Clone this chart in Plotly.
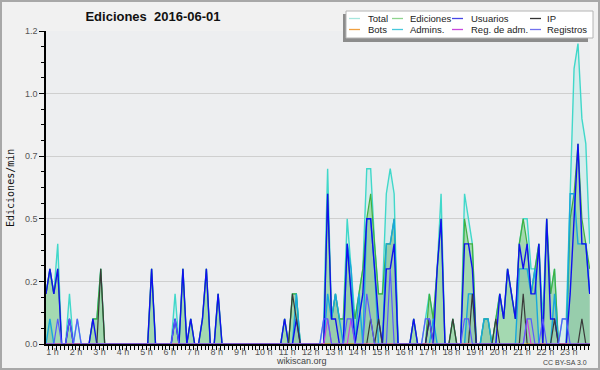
import plotly.graph_objects as go

# ---------------- data (10-minute bins, edits per minute) ----------------
T0 = 0.7227          # hour of the first bin
N_BINS = 140
hour_ticks = list(range(1, 24))
hour_labels = [f"{h} h" for h in hour_ticks]
y_ticks = [0, 0.25, 0.5, 0.75, 1.0, 1.25]
y_labels = ["0.0", "0.2", "0.5", "0.7", "1.0", "1.2"]

total = [
    .2, .3, .2, .4, 0, 0, .2, 0, .1, 0,
    0, 0, .1, .1, .3, 0, 0, 0, 0, 0,
    0, 0, 0, 0, 0, 0, 0, .3, 0, 0,
    0, 0, 0, .2, 0, .3, 0, .1, 0, 0,
    .1, .3, 0, 0, .2, 0, 0, 0, 0, 0,
    0, 0, 0, 0, 0, 0, 0, 0, 0, 0,
    0, .1, 0, .2, .2, 0, 0, 0, 0, 0,
    0, .1, .7, .1, .2, .1, .1, .5, .3, .1,
    .2, .3, .7, .7, .4, .2, .2, .6, .7, .6,
    0, 0, 0, 0, .1, 0, 0, .1, .2, .1,
    .3, .6, 0, 0, .1, 0, 0, .6, .5, .4,
    0, 0, .1, .1, 0, .1, .2, .1, .3, .2,
    .1, .4, .5, .5, .3, .3, .4, .1, .5, .2,
    .3, 0, .1, .1, .6, 1.1, 1.2, .9, .8, .4,
]
ediciones = [
    .2, .3, .2, .3, 0, 0, .1, 0, 0, 0,
    0, 0, .1, .1, .3, 0, 0, 0, 0, 0,
    0, 0, 0, 0, 0, 0, 0, .3, 0, 0,
    0, 0, 0, .1, 0, .3, 0, .1, 0, 0,
    .1, .3, 0, 0, .2, 0, 0, 0, 0, 0,
    0, 0, 0, 0, 0, 0, 0, 0, 0, 0,
    0, .1, 0, .2, .2, 0, 0, 0, 0, 0,
    0, 0, .6, .1, .2, .1, .1, .4, .2, .1,
    .2, .3, .5, .6, .4, .2, .2, .4, .4, .5,
    0, 0, 0, 0, .1, 0, 0, 0, .2, .1,
    .3, .5, 0, 0, .1, 0, 0, .5, .4, .4,
    0, 0, .1, .1, 0, .1, .2, .1, .3, .2,
    .1, .4, .5, .4, .2, .3, .4, 0, .5, .2,
    .3, 0, 0, 0, .5, .6, .8, .5, .4, .3,
]
usuarios = [
    .2, .3, .2, .3, 0, 0, .1, 0, 0, 0,
    0, 0, .1, 0, 0, 0, 0, 0, 0, 0,
    0, 0, 0, 0, 0, 0, 0, .3, 0, 0,
    0, 0, 0, .1, 0, .3, 0, .1, 0, 0,
    .1, .3, 0, 0, .2, 0, 0, 0, 0, 0,
    0, 0, 0, 0, 0, 0, 0, 0, 0, 0,
    0, .1, 0, 0, .1, 0, 0, 0, 0, 0,
    0, 0, .6, .1, .1, 0, 0, .4, .2, 0,
    .1, .2, .5, .5, .3, .1, 0, .3, .3, .4,
    0, 0, 0, 0, .1, 0, 0, 0, .1, 0,
    .3, .5, 0, 0, 0, 0, 0, .4, .4, .3,
    0, 0, 0, 0, 0, 0, .2, .1, .3, .2,
    .1, .4, .3, .4, .2, .2, .4, 0, .5, .1,
    .1, 0, 0, 0, .2, .5, .8, .4, .4, .2,
]
ip = [
    0, 0, 0, 0, 0, 0, 0, 0, 0, 0,
    0, 0, 0, 0, .3, 0, 0, 0, 0, 0,
    0, 0, 0, 0, 0, 0, 0, 0, 0, 0,
    0, 0, 0, 0, 0, 0, 0, 0, 0, 0,
    0, 0, 0, 0, 0, 0, 0, 0, 0, 0,
    0, 0, 0, 0, 0, 0, 0, 0, 0, 0,
    0, 0, 0, .2, .1, 0, 0, 0, 0, 0,
    0, 0, 0, 0, 0, 0, 0, 0, 0, 0,
    0, 0, 0, .1, 0, .1, 0, 0, 0, 0,
    0, 0, 0, 0, 0, 0, 0, 0, .1, 0,
    0, 0, 0, 0, .1, 0, 0, 0, 0, .2,
    0, 0, 0, 0, 0, .1, 0, 0, 0, 0,
    0, 0, .2, 0, 0, 0, 0, 0, 0, 0,
    .1, 0, 0, 0, 0, 0, 0, .1, 0, 0,
]
bots = [
    0, 0, 0, 0, 0, 0, 0, 0, 0, 0,
    0, 0, 0, 0, 0, 0, 0, 0, 0, 0,
    0, 0, 0, 0, 0, 0, 0, 0, 0, 0,
    0, 0, 0, 0, 0, 0, 0, 0, 0, 0,
    0, 0, 0, 0, 0, 0, 0, 0, 0, 0,
    0, 0, 0, 0, 0, 0, 0, 0, 0, 0,
    0, 0, 0, 0, 0, 0, 0, 0, 0, 0,
    0, 0, 0, 0, 0, 0, 0, 0, 0, 0,
    0, 0, 0, 0, 0, 0, 0, 0, 0, 0,
    0, 0, 0, 0, 0, 0, 0, 0, 0, 0,
    0, 0, 0, 0, 0, 0, 0, 0, 0, 0,
    0, 0, 0, 0, 0, 0, 0, 0, 0, 0,
    0, 0, 0, 0, 0, 0, 0, 0, 0, 0,
    0, 0, 0, 0, 0, 0, 0, 0, 0, 0,
]
admins = [
    0, .1, 0, 0, 0, 0, 0, 0, 0, 0,
    0, 0, 0, 0, 0, 0, 0, 0, 0, 0,
    0, 0, 0, 0, 0, 0, 0, 0, 0, 0,
    0, 0, 0, 0, 0, 0, 0, 0, 0, 0,
    0, 0, 0, 0, 0, 0, 0, 0, 0, 0,
    0, 0, 0, 0, 0, 0, 0, 0, 0, 0,
    0, 0, 0, 0, .2, 0, 0, 0, 0, 0,
    0, 0, .2, .1, .2, .1, 0, .4, .3, 0,
    .2, 0, .5, .5, .3, 0, 0, .4, .4, .5,
    0, 0, 0, 0, 0, 0, 0, 0, 0, .1,
    0, 0, 0, 0, 0, 0, 0, 0, .2, .2,
    0, 0, .1, .1, 0, 0, 0, 0, 0, 0,
    0, .3, .3, .3, .2, .3, 0, 0, 0, 0,
    .2, 0, 0, 0, .6, .6, .4, .4, .4, .2,
]
reg_adm = [
    0, 0, 0, 0, 0, 0, 0, 0, 0, 0,
    0, 0, 0, 0, 0, 0, 0, 0, 0, 0,
    0, 0, 0, 0, 0, 0, 0, 0, 0, 0,
    0, 0, 0, 0, 0, 0, 0, 0, 0, 0,
    0, 0, 0, 0, 0, 0, 0, 0, 0, 0,
    0, 0, 0, 0, 0, 0, 0, 0, 0, 0,
    0, 0, 0, 0, 0, 0, 0, 0, 0, 0,
    0, 0, .1, 0, 0, 0, 0, 0, .1, 0,
    0, 0, 0, 0, 0, 0, 0, 0, 0, 0,
    0, 0, 0, 0, 0, 0, 0, 0, 0, 0,
    0, 0, 0, 0, 0, 0, 0, 0, 0, 0,
    0, 0, 0, 0, 0, 0, 0, 0, 0, 0,
    0, 0, 0, .1, 0, 0, 0, 0, 0, 0,
    0, 0, 0, 0, 0, 0, 0, 0, 0, 0,
]
registros = [
    0, 0, 0, .1, 0, 0, .1, 0, .1, 0,
    0, 0, 0, 0, 0, 0, 0, 0, 0, 0,
    0, 0, 0, 0, 0, 0, 0, 0, 0, 0,
    0, 0, 0, .1, 0, 0, 0, 0, 0, 0,
    0, 0, 0, 0, 0, 0, 0, 0, 0, 0,
    0, 0, 0, 0, 0, 0, 0, 0, 0, 0,
    0, 0, 0, 0, 0, 0, 0, 0, 0, 0,
    0, .1, .1, 0, 0, 0, 0, .1, .1, 0,
    0, 0, .2, .1, 0, 0, 0, 0, .3, 0,
    0, 0, 0, 0, 0, 0, 0, .1, .1, 0,
    0, 0, 0, 0, 0, 0, 0, .1, .1, 0,
    0, 0, 0, 0, 0, 0, 0, 0, 0, 0,
    0, 0, 0, .1, .1, 0, 0, .1, 0, 0,
    0, 0, .1, .1, 0, 0, 0, 0, 0, 0,
]

hours = [T0 + i / 6 for i in range(N_BINS)]

legend_names = ["Total", "Ediciones", "Usuarios", "IP",
                "Bots", "Admins.", "Reg. de adm.", "Registros"]
legend_colors = ["#a6e6de", "#8fd48f", "#4646e6", "#333333",
                 "#f0a040", "#48c8dc", "#c848dc", "#7272ee"]

# ---------------- figure ----------------
W, H = 600, 370
ML, MR, MT, MB = 46, 10, 31, 26
PW, PH = W - ML - MR, H - MT - MB


def px(x):
    return (x - ML) / PW


def py(y):
    return (H - MB - y) / PH


fig = go.Figure()

series = [
    ("Total", total, "#40d8ca", 1.4, "tozeroy", "rgba(64,224,208,0.13)"),
    ("Ediciones", ediciones, "#40b040", 1.2, "tozeroy", "rgba(95,190,95,0.42)"),
    ("Admins.", admins, "#18a8dc", 1.4, "tozeroy", "rgba(0,70,110,0.08)"),
    ("Usuarios", usuarios, "#1010f0", 1.4, None, None),
    ("IP", ip, "#3a3a3a", 1.2, None, None),
    ("Bots", bots, "#ff9933", 1.0, None, None),
    ("Reg. de adm.", reg_adm, "#cc44dd", 1.2, None, None),
    ("Registros", registros, "#5a5aff", 1.2, None, None),
]
for name, vals, col, lw, fill, fc in series:
    kw = dict(x=hours, y=vals, name=name, mode="lines",
              line=dict(color=col, width=lw), showlegend=False,
              hoverinfo="skip")
    if fill:
        kw.update(fill=fill, fillcolor=fc)
    fig.add_trace(go.Scatter(**kw))

tickfont = dict(family="Liberation Sans", size=9, color="#555555")

fig.update_xaxes(
    range=[T0, T0 + PW / 23.47],
    tickmode="array", tickvals=hour_ticks, ticktext=hour_labels,
    ticks="outside", ticklen=4, tickwidth=1, tickcolor="black",
    minor=dict(dtick=1 / 6, tick0=0, ticks="outside", ticklen=4,
               tickwidth=1, tickcolor="black", showgrid=False),
    showgrid=False, zeroline=False,
    showline=True, linecolor="black", linewidth=1.5,
    tickfont=tickfont, ticklabelstandoff=-6,
)
fig.update_yaxes(
    range=[0, 1.25],
    tickmode="array", tickvals=y_ticks, ticktext=y_labels,
    ticks="outside", ticklen=5, tickwidth=1, tickcolor="black",
    minor=dict(dtick=0.0625, tick0=0, ticks="outside", ticklen=3,
               tickwidth=1, tickcolor="black", showgrid=False),
    showgrid=True, gridcolor="#cfcfcf", gridwidth=1, zeroline=False,
    showline=True, linecolor="black", linewidth=1.5,
    tickfont=tickfont, ticklabelstandoff=0,
)

shapes = []
annotations = []

# outer frame
shapes.append(dict(type="rect", xref="paper", yref="paper",
                   x0=px(1), x1=px(W - 1), y0=py(H - 1), y1=py(1),
                   line=dict(color="#a8a8a8", width=2), fillcolor="rgba(0,0,0,0)",
                   layer="above"))

# legend (shadow + box)
shapes.append(dict(type="rect", xref="paper", yref="paper",
                   x0=px(343), x1=px(588), y0=py(42), y1=py(14),
                   line=dict(width=0), fillcolor="#8c8c8c", layer="above"))
shapes.append(dict(type="rect", xref="paper", yref="paper",
                   x0=px(346), x1=px(593), y0=py(38), y1=py(11),
                   line=dict(color="#b4b4b4", width=1), fillcolor="#ffffff",
                   layer="above"))
col_line = [349, 392, 452, 530]
col_text = [366, 408, 469, 545]
row_y = [18.5, 29.5]
for k, (nm, c) in enumerate(zip(legend_names, legend_colors)):
    r, cidx = divmod(k, 4)
    yy = row_y[r]
    shapes.append(dict(type="line", xref="paper", yref="paper",
                       x0=px(col_line[cidx]), x1=px(col_line[cidx] + 11),
                       y0=py(yy), y1=py(yy),
                       line=dict(color=c, width=1.3), layer="above"))
    annotations.append(dict(xref="paper", yref="paper", x=px(col_text[cidx]),
                            y=py(yy), text=nm, showarrow=False,
                            xanchor="left", yanchor="middle",
                            font=dict(family="Liberation Sans", size=9.5,
                                      color="#222222")))

# y-axis title
annotations.append(dict(xref="paper", yref="paper", x=px(10), y=py(188),
                        text="Ediciones/min", textangle=-90, showarrow=False,
                        xanchor="center", yanchor="middle",
                        font=dict(family="DejaVu Sans Mono", size=10,
                                  color="#111111")))
# footer texts
annotations.append(dict(xref="paper", yref="paper", x=px(301), y=py(361),
                        text="wikiscan.org", showarrow=False,
                        xanchor="center", yanchor="middle",
                        font=dict(family="Liberation Sans", size=9,
                                  color="#444444")))
annotations.append(dict(xref="paper", yref="paper", x=px(589), y=py(362),
                        text="CC BY-SA 3.0", showarrow=False,
                        xanchor="right", yanchor="middle",
                        font=dict(family="Liberation Sans", size=7,
                                  color="#444444")))

fig.update_layout(
    width=W, height=H,
    margin=dict(l=ML, r=MR, t=MT, b=MB, pad=0),
    paper_bgcolor="#f1f1f1",
    plot_bgcolor="#edeef0",
    title=dict(text="Ediciones\u00a0 2016-06-01", x=153 / W, xref="container",
               xanchor="center", y=1 - 16 / H, yref="container",
               yanchor="middle",
               font=dict(family="Liberation Sans", size=13, color="#111111",
                         weight="bold")),
    shapes=shapes,
    annotations=annotations,
    showlegend=False,
    hovermode=False,
)

fig.write_html("out.html",
               config={"displayModeBar": False},
               post_script="document.body.style.margin='0';"
                           "document.body.style.overflow='hidden';")
